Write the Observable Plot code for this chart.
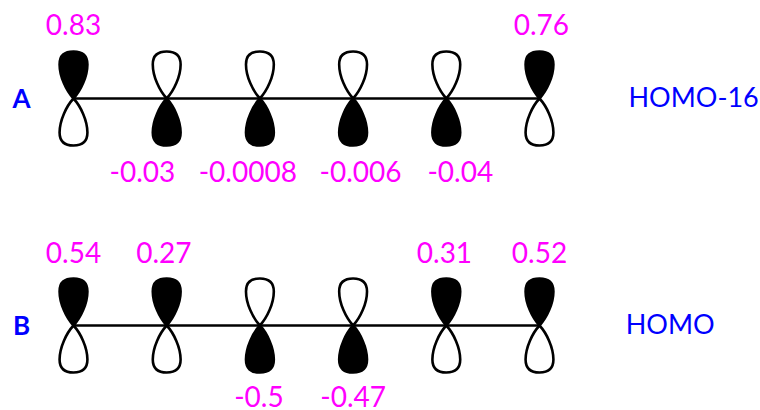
<!DOCTYPE html>
<html><head><meta charset="utf-8">
<script src="https://cdn.jsdelivr.net/npm/d3@7"></script>
<script src="https://cdn.jsdelivr.net/npm/@observablehq/plot@0.6"></script>
<style>html,body{margin:0;padding:0;background:#fff}svg{display:block}</style>
</head><body><div id="chart"></div>
<script>
const sites = [1, 2, 3, 4, 5, 6];
const coefA = [0.83, -0.03, -0.0008, -0.006, -0.04, 0.76];
const coefB = [0.54, 0.27, -0.5, -0.47, 0.31, 0.52];
const rows = ["A", "B"];
const orbitalNames = ["HOMO-16", "HOMO"];

const orbitals = [
  ...sites.map((s, i) => ({row: 0, site: s, coef: coefA[i]})),
  ...sites.map((s, i) => ({row: 1, site: s, coef: coefB[i]}))
];

// label nudges in site units, reading the label placement of the picture
const nudgeA = [0, -0.26, -0.13, 0.08, 0.15, 0.02];
const nudgeB = [0, -0.03, -0.01, 0, -0.02, 0];
const nudged = d => d.site + (d.row === 0 ? nudgeA : nudgeB)[d.site - 1];

// lobe outline, tip at the symbol's origin, in units of the lobe length
const lobe = dir => ({
  draw(ctx, size) {
    const r = Math.sqrt(size / Math.PI);
    const X = u => u * r, Y = v => dir * v * r;
    ctx.moveTo(0, 0);
    ctx.bezierCurveTo(X(0.15), Y(-0.16), X(0.29), Y(-0.46), X(0.29), Y(-0.71));
    ctx.bezierCurveTo(X(0.29), Y(-0.90), X(0.19), Y(-0.98), X(0), Y(-0.98));
    ctx.bezierCurveTo(X(-0.19), Y(-0.98), X(-0.29), Y(-0.90), X(-0.29), Y(-0.71));
    ctx.bezierCurveTo(X(-0.29), Y(-0.46), X(-0.15), Y(-0.16), 0, 0);
    ctx.closePath();
  }
});

const labelFont = {fontFamily: "Lato", fontSize: 28};
const magenta = "#ff00ff", blue = "#0000ff";
const coefLabels = (row, up, dy) => Plot.text(
  orbitals.filter(d => d.row === row && (d.coef > 0) === up),
  {x: nudged, y: "row", text: d => String(d.coef), dy, fill: magenta, ...labelFont});

const chart = Plot.plot({
  width: 760, height: 410,
  marginTop: 0, marginRight: 0, marginBottom: 0, marginLeft: 0,
  x: {domain: [1, 6], range: [73, 539], axis: null},
  y: {domain: [0, 1], range: [98, 325], axis: null},
  color: {type: "identity"},
  marks: [
    Plot.ruleY([0, 1], {x1: 1, x2: 6, stroke: "black", strokeWidth: 2.4}),
    Plot.dot(orbitals, {x: "site", y: "row", symbol: lobe(1), r: 48,
      fill: d => d.coef > 0 ? "black" : "white", stroke: "black", strokeWidth: 2.6}),
    Plot.dot(orbitals, {x: "site", y: "row", symbol: lobe(-1), r: 48,
      fill: d => d.coef > 0 ? "white" : "black", stroke: "black", strokeWidth: 2.6}),
    coefLabels(0, true, -72),
    coefLabels(0, false, 75),
    coefLabels(1, true, -71),
    coefLabels(1, false, 73),
    Plot.text(rows, {x: 1, y: (d, i) => i, text: d => d, dx: -52, dy: 1,
      fill: blue, fontFamily: "Lato", fontSize: 26, fontWeight: "bold"}),
    Plot.text(orbitalNames, {x: (d, i) => 6 - i * 0.03, y: (d, i) => i, text: d => d, dx: 89, textAnchor: "start",
      fill: blue, fontFamily: "Lato", fontSize: 27})
  ]
});
document.getElementById("chart").append(chart);
</script></body></html>
